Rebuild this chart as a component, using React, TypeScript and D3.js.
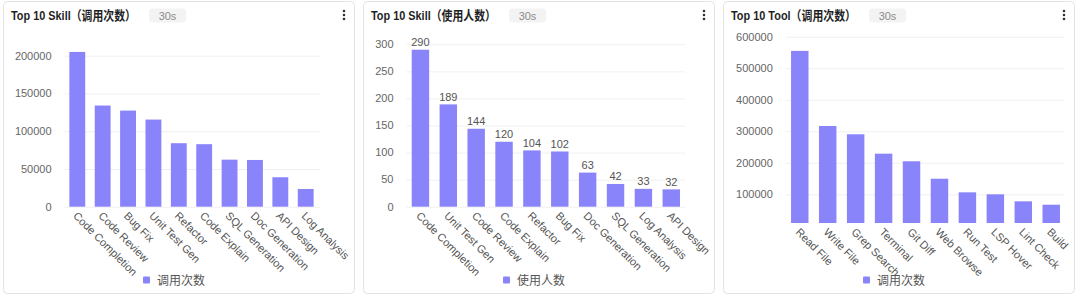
import React, { useEffect, useRef } from 'react';
import * as d3 from 'd3';

// panel 1: Top 10 Skill (调用次数)
const skillCallNames = [
  'Code Completion', 'Code Review', 'Bug Fix', 'Unit Test Gen', 'Refactor',
  'Code Explain', 'SQL Generation', 'Doc Generation', 'API Design', 'Log Analysis',
];
const skillCallValues = [205000, 134000, 127300, 115400, 84100, 82800, 62300, 61900, 39000, 23500];
const skillCallTicks = [0, 50000, 100000, 150000, 200000];

// panel 2: Top 10 Skill (使用人数)
const skillUserNames = [
  'Code Completion', 'Unit Test Gen', 'Code Review', 'Code Explain', 'Refactor',
  'Bug Fix', 'Doc Generation', 'SQL Generation', 'Log Analysis', 'API Design',
];
const skillUserValues = [290, 189, 144, 120, 104, 102, 63, 42, 33, 32];
const skillUserTicks = [0, 50, 100, 150, 200, 250, 300];

// panel 3: Top 10 Tool (调用次数)
const toolCallNames = [
  'Read File', 'Write File', 'Grep Search', 'Terminal', 'Git Diff',
  'Web Browse', 'Run Test', 'LSP Hover', 'Lint Check', 'Build',
];
const toolCallValues = [555000, 316800, 290500, 228900, 204800, 149500, 106300, 100000, 77800, 67000];
const toolCallTicks = [100000, 200000, 300000, 400000, 500000, 600000];

const BAR_COLOR = '#8a84fb';
const FONT = "'Helvetica Neue', Helvetica, Arial, 'Liberation Sans', 'Noto Sans CJK SC', sans-serif";

interface PanelProps {
  x: number;
  title: string;
  legend: string;
  names: string[];
  values: number[];
  ticks: number[];
  yDomain: [number, number];
  yRange: [number, number];
  xRange: [number, number];
  gridRight: number;
  showValues?: boolean;
}

const Panel: React.FC<PanelProps> = (p) => {
  const gRef = useRef<SVGGElement>(null);

  useEffect(() => {
    const g = d3.select(gRef.current);
    g.selectAll('*').remove();

    const panelW = 351;
    const panelH = 292;

    // card
    g.append('rect')
      .attr('x', p.x + 0.5)
      .attr('y', 1.5)
      .attr('width', panelW)
      .attr('height', panelH)
      .attr('rx', 4)
      .attr('fill', '#fff')
      .attr('stroke', '#e3e3e3');

    // header
    g.append('text')
      .attr('x', p.x + 8)
      .attr('y', 19.5)
      .attr('textLength', 125)
      .attr('lengthAdjust', 'spacingAndGlyphs')
      .style('font-size', '13px')
      .style('font-weight', 'bold')
      .style('fill', '#1f1f1f')
      .text(p.title);

    g.append('rect')
      .attr('x', p.x + 146)
      .attr('y', 8.5)
      .attr('width', 37)
      .attr('height', 14)
      .attr('rx', 4)
      .attr('fill', '#f3f3f3');

    g.append('text')
      .attr('x', p.x + 164.5)
      .attr('y', 19.5)
      .attr('text-anchor', 'middle')
      .style('font-size', '11px')
      .style('fill', '#8c8c8c')
      .text('30s');

    [-4, 0, 4].forEach(dy => {
      g.append('circle')
        .attr('cx', p.x + 341)
        .attr('cy', 15 + dy)
        .attr('r', 1.3)
        .attr('fill', '#333');
    });

    // scales
    const xScale = d3.scaleBand<string>()
      .domain(p.names)
      .range(p.xRange)
      .paddingInner(0.375)
      .paddingOuter(0.1875);

    const yScale = d3.scaleLinear()
      .domain(p.yDomain)
      .range(p.yRange);

    // grid lines
    g.append('g')
      .selectAll('line')
      .data(p.ticks)
      .enter()
      .append('line')
      .attr('x1', p.xRange[0])
      .attr('x2', p.gridRight)
      .attr('y1', d => yScale(d) + 0.5)
      .attr('y2', d => yScale(d) + 0.5)
      .attr('stroke', '#f0f0f0');

    // y axis labels
    g.append('g')
      .selectAll('text')
      .data(p.ticks)
      .enter()
      .append('text')
      .attr('x', p.xRange[0] - 13)
      .attr('y', d => yScale(d))
      .attr('dy', '0.35em')
      .attr('text-anchor', 'end')
      .style('font-size', '11px')
      .style('fill', '#666')
      .text(d => String(d));

    // bars
    const base = yScale(p.yDomain[0]);
    g.append('g')
      .selectAll('rect')
      .data(p.values)
      .enter()
      .append('rect')
      .attr('x', (_, i) => xScale(p.names[i]) || 0)
      .attr('y', d => yScale(d))
      .attr('width', xScale.bandwidth())
      .attr('height', d => base - yScale(d))
      .attr('fill', BAR_COLOR);

    // value labels
    if (p.showValues) {
      g.append('g')
        .selectAll('text')
        .data(p.values)
        .enter()
        .append('text')
        .attr('x', (_, i) => (xScale(p.names[i]) || 0) + xScale.bandwidth() / 2)
        .attr('y', d => yScale(d) - 3.5)
        .attr('text-anchor', 'middle')
        .style('font-size', '11px')
        .style('fill', '#555')
        .text(d => String(d));
    }

    // x axis labels (rotated)
    g.append('g')
      .selectAll('text')
      .data(p.names)
      .enter()
      .append('text')
      .attr('transform', d => `translate(${(xScale(d) || 0) + xScale.bandwidth() / 2 + 1},${base + 4}) rotate(45)`)
      .attr('dy', '0.75em')
      .attr('text-anchor', 'start')
      .style('font-size', '11px')
      .style('fill', '#555')
      .text(d => d);

    // legend
    g.append('rect')
      .attr('x', p.x + 140)
      .attr('y', 276.5)
      .attr('width', 7)
      .attr('height', 7)
      .attr('rx', 1)
      .attr('fill', BAR_COLOR);

    g.append('text')
      .attr('x', p.x + 154)
      .attr('y', 284.5)
      .style('font-size', '12px')
      .style('fill', '#555')
      .text(p.legend);
  }, [p]);

  return <g ref={gRef} style={{ fontFamily: FONT }}></g>;
};

export default function App() {
  return (
    <svg
      width={1080}
      height={299}
      style={{ position: 'absolute', left: 0, top: 0, background: '#fff' }}
    >
      <Panel
        x={3}
        title="Top 10 Skill（调用次数）"
        legend="调用次数"
        names={skillCallNames}
        values={skillCallValues}
        ticks={skillCallTicks}
        yDomain={[0, 200000]}
        yRange={[206.7, 55.7]}
        xRange={[64.6, 318.4]}
        gridRight={320}
      />
      <Panel
        x={363}
        title="Top 10 Skill（使用人数）"
        legend="使用人数"
        names={skillUserNames}
        values={skillUserValues}
        ticks={skillUserTicks}
        yDomain={[0, 300]}
        yRange={[206.7, 44.3]}
        xRange={[406.5, 685.2]}
        gridRight={685}
        showValues
      />
      <Panel
        x={723}
        title="Top 10 Tool（调用次数）"
        legend="调用次数"
        names={toolCallNames}
        values={toolCallValues}
        ticks={toolCallTicks}
        yDomain={[9000, 600000]}
        yRange={[223, 36.7]}
        xRange={[785.8, 1065.2]}
        gridRight={1064}
      />
    </svg>
  );
}
